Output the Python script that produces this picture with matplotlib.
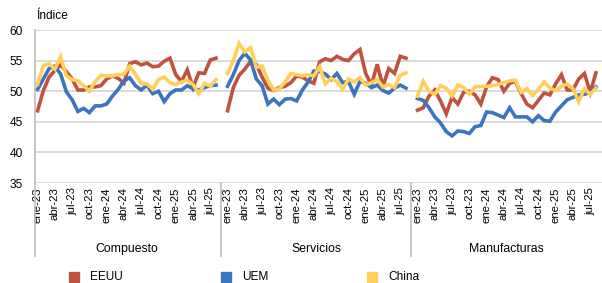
import matplotlib.pyplot as plt
from matplotlib.patches import Rectangle
from matplotlib.lines import Line2D

plt.rcParams['font.family'] = ['Liberation Sans', 'DejaVu Sans']

# meses ene-23 .. ago-25 (32 por bloque)
meses = ['ene', 'feb', 'mar', 'abr', 'may', 'jun', 'jul', 'ago', 'sep', 'oct', 'nov', 'dic']
etiquetas = [f'{m}-{a}' for a in ['23', '24', '25'] for m in meses][:32]
grupos = ['Compuesto', 'Servicios', 'Manufacturas']
series = ['EEUU', 'UEM', 'China']
colores = ['#C0533F', '#3A74C2', '#FFCF5A']

eeuu_comp = [46.8, 50.1, 52.3, 53.4, 54.3, 53.2, 52.0, 50.2, 50.2, 50.7, 50.7, 50.9,
             52.0, 52.5, 52.1, 51.3, 54.5, 54.8, 54.3, 54.6, 54.0, 54.1, 54.9, 55.4,
             52.7, 51.6, 53.5, 50.6, 53.0, 52.9, 55.1, 55.4]
uem_comp = [50.3, 52.0, 53.7, 54.1, 52.8, 49.9, 48.6, 46.7, 47.2, 46.5, 47.6, 47.6,
            47.9, 49.2, 50.3, 51.7, 52.2, 50.9, 50.2, 51.0, 49.6, 50.0, 48.3, 49.6,
            50.2, 50.2, 50.9, 50.4, 50.2, 50.6, 50.9, 51.0]
china_comp = [51.1, 54.2, 54.5, 53.6, 55.6, 52.5, 51.9, 51.7, 50.9, 50.0, 51.6, 52.6,
              52.5, 52.5, 52.7, 52.8, 54.1, 52.8, 51.2, 51.2, 50.3, 51.9, 52.3, 51.4,
              51.1, 51.5, 51.8, 51.1, 49.6, 51.3, 50.8, 51.9]

eeuu_serv = [46.8, 50.6, 52.6, 53.6, 54.9, 54.4, 52.3, 50.5, 50.1, 50.6, 50.8, 51.4,
             52.5, 52.3, 51.7, 51.3, 54.8, 55.3, 55.0, 55.7, 55.2, 55.0, 56.1, 56.8,
             52.9, 51.0, 54.4, 50.8, 53.7, 52.9, 55.7, 55.4]
uem_serv = [50.8, 52.7, 55.0, 56.2, 55.1, 52.0, 50.9, 47.9, 48.7, 47.8, 48.7, 48.8,
            48.4, 50.2, 51.5, 53.3, 53.2, 52.8, 51.9, 52.9, 51.4, 51.6, 49.5, 51.6,
            51.3, 50.6, 51.0, 50.1, 49.7, 50.5, 51.0, 50.5]
china_serv = [52.9, 55.0, 57.8, 56.4, 57.1, 53.9, 54.1, 51.8, 50.2, 50.4, 51.5, 52.9,
              52.7, 52.5, 52.7, 52.5, 54.0, 51.2, 52.1, 51.6, 50.3, 52.0, 51.5, 52.2,
              51.0, 51.4, 51.9, 50.7, 51.1, 50.6, 52.6, 53.0]

eeuu_manu = [46.9, 47.3, 49.2, 50.2, 48.4, 46.3, 49.0, 47.9, 49.8, 50.0, 49.4, 47.9,
             50.7, 52.2, 51.9, 50.0, 51.3, 51.6, 49.6, 47.9, 47.3, 48.5, 49.7, 49.4,
             51.2, 52.7, 50.2, 50.2, 52.0, 52.9, 49.8, 53.0]
uem_manu = [48.8, 48.5, 47.3, 45.8, 44.8, 43.4, 42.7, 43.5, 43.4, 43.1, 44.2, 44.4,
            46.6, 46.5, 46.1, 45.7, 47.3, 45.8, 45.8, 45.8, 45.0, 46.0, 45.2, 45.1,
            46.6, 47.6, 48.6, 49.0, 49.4, 49.5, 49.8, 50.7]
china_manu = [49.2, 51.6, 50.0, 49.5, 50.9, 50.5, 49.2, 51.0, 50.6, 49.5, 50.7, 50.8,
              50.8, 50.9, 51.1, 51.4, 51.7, 51.8, 49.8, 50.4, 49.3, 50.3, 51.5, 50.5,
              50.1, 50.8, 51.2, 50.4, 48.3, 50.4, 49.5, 50.5]

datos = [[eeuu_comp, uem_comp, china_comp],
         [eeuu_serv, uem_serv, china_serv],
         [eeuu_manu, uem_manu, china_manu]]

n = len(etiquetas)
paso = n + 1  # una categoria vacia entre bloques

fig = plt.figure(figsize=(6.02, 2.83), dpi=100)
ax = fig.add_axes([35 / 602, 100 / 283, 567 / 602, 153 / 283])

for y in [35, 40, 45, 50, 55, 60]:
    ax.axhline(y, color='#d4d4d4', lw=1.2, zorder=0)

for g, bloque in enumerate(datos):
    xs = [g * paso + i for i in range(n)]
    for k, vals in enumerate(bloque):
        ax.plot(xs, vals, color=colores[k], lw=2.6, solid_joinstyle='miter')

ticks, ticklab = [], []
for g in range(3):
    for i in range(0, n, 3):
        ticks.append(g * paso + i)
        ticklab.append(etiquetas[i])
ax.set_xticks(ticks)
ax.set_xticklabels(ticklab, rotation=90, fontsize=8.2, va='top')
ax.tick_params(axis='x', length=0, pad=3)
ax.tick_params(axis='y', length=0, pad=9, labelsize=8.6)
ax.set_yticks([35, 40, 45, 50, 55, 60])
ax.set_ylim(35, 60)
ax.set_xlim(-0.45, 3 * paso - 1 + 0.05)

for s in ax.spines.values():
    s.set_visible(False)

# linea vertical izquierda y separadores de bloque (bajan a la zona de etiquetas)
trans = ax.get_xaxis_transform()
y0 = (256 - 183) / 153
for xsep in [-0.45, paso - 1.15, 2 * paso - 1.15]:
    ax.add_line(Line2D([xsep, xsep], [1.0 if xsep < 0 else 0, -y0], transform=trans,
                       color='#bdbdbd', lw=1.2, clip_on=False))

for g, nombre in enumerate(grupos):
    ax.text(g * paso + (n - 1) / 2, -(249 - 183) / 153, nombre, transform=trans,
            ha='center', va='center', fontsize=8.8)

fig.text(36 / 602, 1 - 16 / 283, 'Índice', fontsize=8.6, ha='left', va='center')

# leyenda
for xsq, nombre, c in zip([69, 221, 367], series, colores):
    fig.patches.append(Rectangle((xsq / 602, 1 - 282 / 283), 10 / 602, 10 / 283,
                                 transform=fig.transFigure, color=c))
    fig.text((xsq + 21) / 602, 1 - 277 / 283, nombre, fontsize=8.6, va='center')

fig.savefig('out.png', dpi=100)
